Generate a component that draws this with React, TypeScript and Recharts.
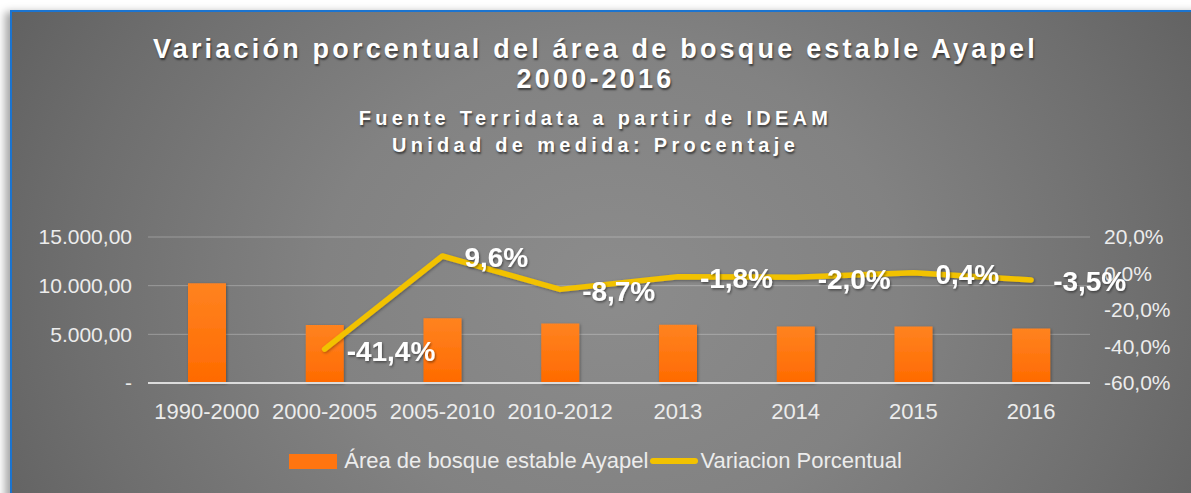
import { Bar, ComposedChart, CartesianGrid, LabelList, Legend, Line, XAxis, YAxis } from "recharts";

const periods = ["1990-2000", "2000-2005", "2005-2010", "2010-2012", "2013", "2014", "2015", "2016"];
const stableForestArea = [10250, 5970, 6640, 6110, 5980, 5810, 5800, 5590];
const percentChange: (number | null)[] = [null, -41.4, 9.6, -8.7, -1.8, -2.0, 0.4, -3.5];
const areaTicks = [0, 5000, 10000, 15000];
const percentTicks = [-60, -40, -20, 0, 20];

const titleLines = ["Variación porcentual del área de bosque estable Ayapel", "2000-2016"];
const subtitleLines = ["Fuente Terridata a partir de IDEAM", "Unidad de medida: Procentaje"];

const data = periods.map((period, i) => ({
  period,
  area: stableForestArea[i],
  change: percentChange[i],
}));

const font = "'Liberation Sans', Arial, sans-serif";
const tickColor = "#ececec";
const orange = "#ff7510";
const yellow = "#f2c200";

const areaFormat = new Intl.NumberFormat("de-DE", { minimumFractionDigits: 2, maximumFractionDigits: 2 });

function formatArea(value: number): string {
  return value === 0 ? "-" : areaFormat.format(value);
}

function formatPercent(value: number): string {
  return `${value.toFixed(1).replace(".", ",")}%`;
}

function PercentLabel(props: any) {
  const { x, y, value } = props;
  if (value == null || x == null) return null;
  return (
    <text x={x + 22} y={y + 2} dominantBaseline="central" fill="#ffffff" fontSize={28} fontWeight={700} fontFamily={font} filter="url(#labelShadow)">
      {formatPercent(Number(value))}
    </text>
  );
}

function ChartLegend() {
  return (
    <div style={{ display: "flex", justifyContent: "center", alignItems: "center", height: 30, fontFamily: font, fontSize: 22, color: tickColor }}>
      <span style={{ display: "inline-block", width: 48, height: 15, background: orange, marginRight: 7 }} />
      <span>Área de bosque estable Ayapel</span>
      <span style={{ display: "inline-block", width: 48, height: 6, borderRadius: 3, background: yellow, margin: "0 2px" }} />
      <span>Variacion Porcentual</span>
    </div>
  );
}

export default function App() {
  return (
    <div style={{ position: "absolute", left: 0, top: 0, width: 1191, height: 493, overflow: "hidden", background: "#ffffff" }}>
      <div
        style={{
          position: "absolute",
          left: 10,
          top: 10,
          width: 1200,
          height: 500,
          borderTop: "2px solid #1b74d0",
          borderLeft: "2px solid #1b74d0",
          boxShadow: "-5px 2px 8px rgba(0,0,0,0.35)",
          background: "radial-gradient(ellipse 60% 120% at 50% 55%, #8c8c8c 0%, #828282 40%, #6e6e6e 75%, #5e5e5e 100%)",
        }}
      />
      <div style={{ position: "absolute", left: 0, top: 0, width: 1191, textAlign: "center", fontFamily: font, color: "#ffffff", fontWeight: 700, textShadow: "1px 2px 2px rgba(0,0,0,0.55)" }}>
        <div style={{ position: "absolute", top: 34, width: "100%", fontSize: 27, letterSpacing: 3.2, lineHeight: "30px" }}>{titleLines[0]}</div>
        <div style={{ position: "absolute", top: 64, width: "100%", fontSize: 27, letterSpacing: 3.2, lineHeight: "30px" }}>{titleLines[1]}</div>
        <div style={{ position: "absolute", top: 106, width: "100%", fontSize: 20, letterSpacing: 4.3, lineHeight: "24px" }}>{subtitleLines[0]}</div>
        <div style={{ position: "absolute", top: 133, width: "100%", fontSize: 20, letterSpacing: 4.3, lineHeight: "24px" }}>{subtitleLines[1]}</div>
      </div>
      <div style={{ position: "absolute", left: 0, top: 0 }}>
        <ComposedChart width={1191} height={493} data={data} margin={{ top: 237, right: 11, bottom: 17, left: 8 }} barCategoryGap={0}>
          <defs>
            <linearGradient id="barFill" x1="0" y1="0" x2="0" y2="1">
              <stop offset="0%" stopColor="#ff8320" />
              <stop offset="100%" stopColor="#ff6a00" />
            </linearGradient>
            <filter id="labelShadow" x="-10%" y="-20%" width="130%" height="150%">
              <feDropShadow dx="1" dy="1.5" stdDeviation="1" floodColor="#000" floodOpacity="0.45" />
            </filter>
            <filter id="markShadow" x="-20%" y="-20%" width="140%" height="140%">
              <feDropShadow dx="1" dy="1" stdDeviation="1.5" floodColor="#000" floodOpacity="0.35" />
            </filter>
          </defs>
          <CartesianGrid vertical={false} stroke="rgba(255,255,255,0.28)" strokeWidth={1} yAxisId="area" />
          <XAxis
            dataKey="period"
            height={63}
            tickLine={false}
            axisLine={{ stroke: "#dcdcdc", strokeWidth: 2 }}
            tickMargin={14}
            tick={{ fill: tickColor, fontSize: 22, fontFamily: font }}
            interval={0}
          />
          <YAxis
            yAxisId="area"
            orientation="left"
            width={140}
            domain={[0, 15000]}
            ticks={areaTicks}
            tickFormatter={formatArea}
            tickLine={false}
            axisLine={false}
            tickMargin={10}
            tick={{ fill: tickColor, fontSize: 21, fontFamily: font }}
          />
          <YAxis
            yAxisId="pct"
            orientation="right"
            width={90}
            domain={[-60, 20]}
            ticks={percentTicks}
            tickFormatter={formatPercent}
            tickLine={false}
            axisLine={false}
            tickMargin={8}
            tick={{ fill: tickColor, fontSize: 21, fontFamily: font }}
          />
          <Bar yAxisId="area" dataKey="area" name="Área de bosque estable Ayapel" barSize={38} fill="url(#barFill)" filter="url(#markShadow)" isAnimationActive={false} />
          <Line
            yAxisId="pct"
            dataKey="change"
            name="Variacion Porcentual"
            type="linear"
            stroke={yellow}
            strokeWidth={5.5}
            strokeLinecap="round"
            strokeLinejoin="round"
            dot={false}
            activeDot={false}
            connectNulls={false}
            filter="url(#markShadow)"
            isAnimationActive={false}
          >
            <LabelList dataKey="change" content={PercentLabel} />
          </Line>
          <Legend verticalAlign="bottom" content={ChartLegend} wrapperStyle={{ left: 0, width: 1191, height: 30 }} />
        </ComposedChart>
      </div>
    </div>
  );
}
